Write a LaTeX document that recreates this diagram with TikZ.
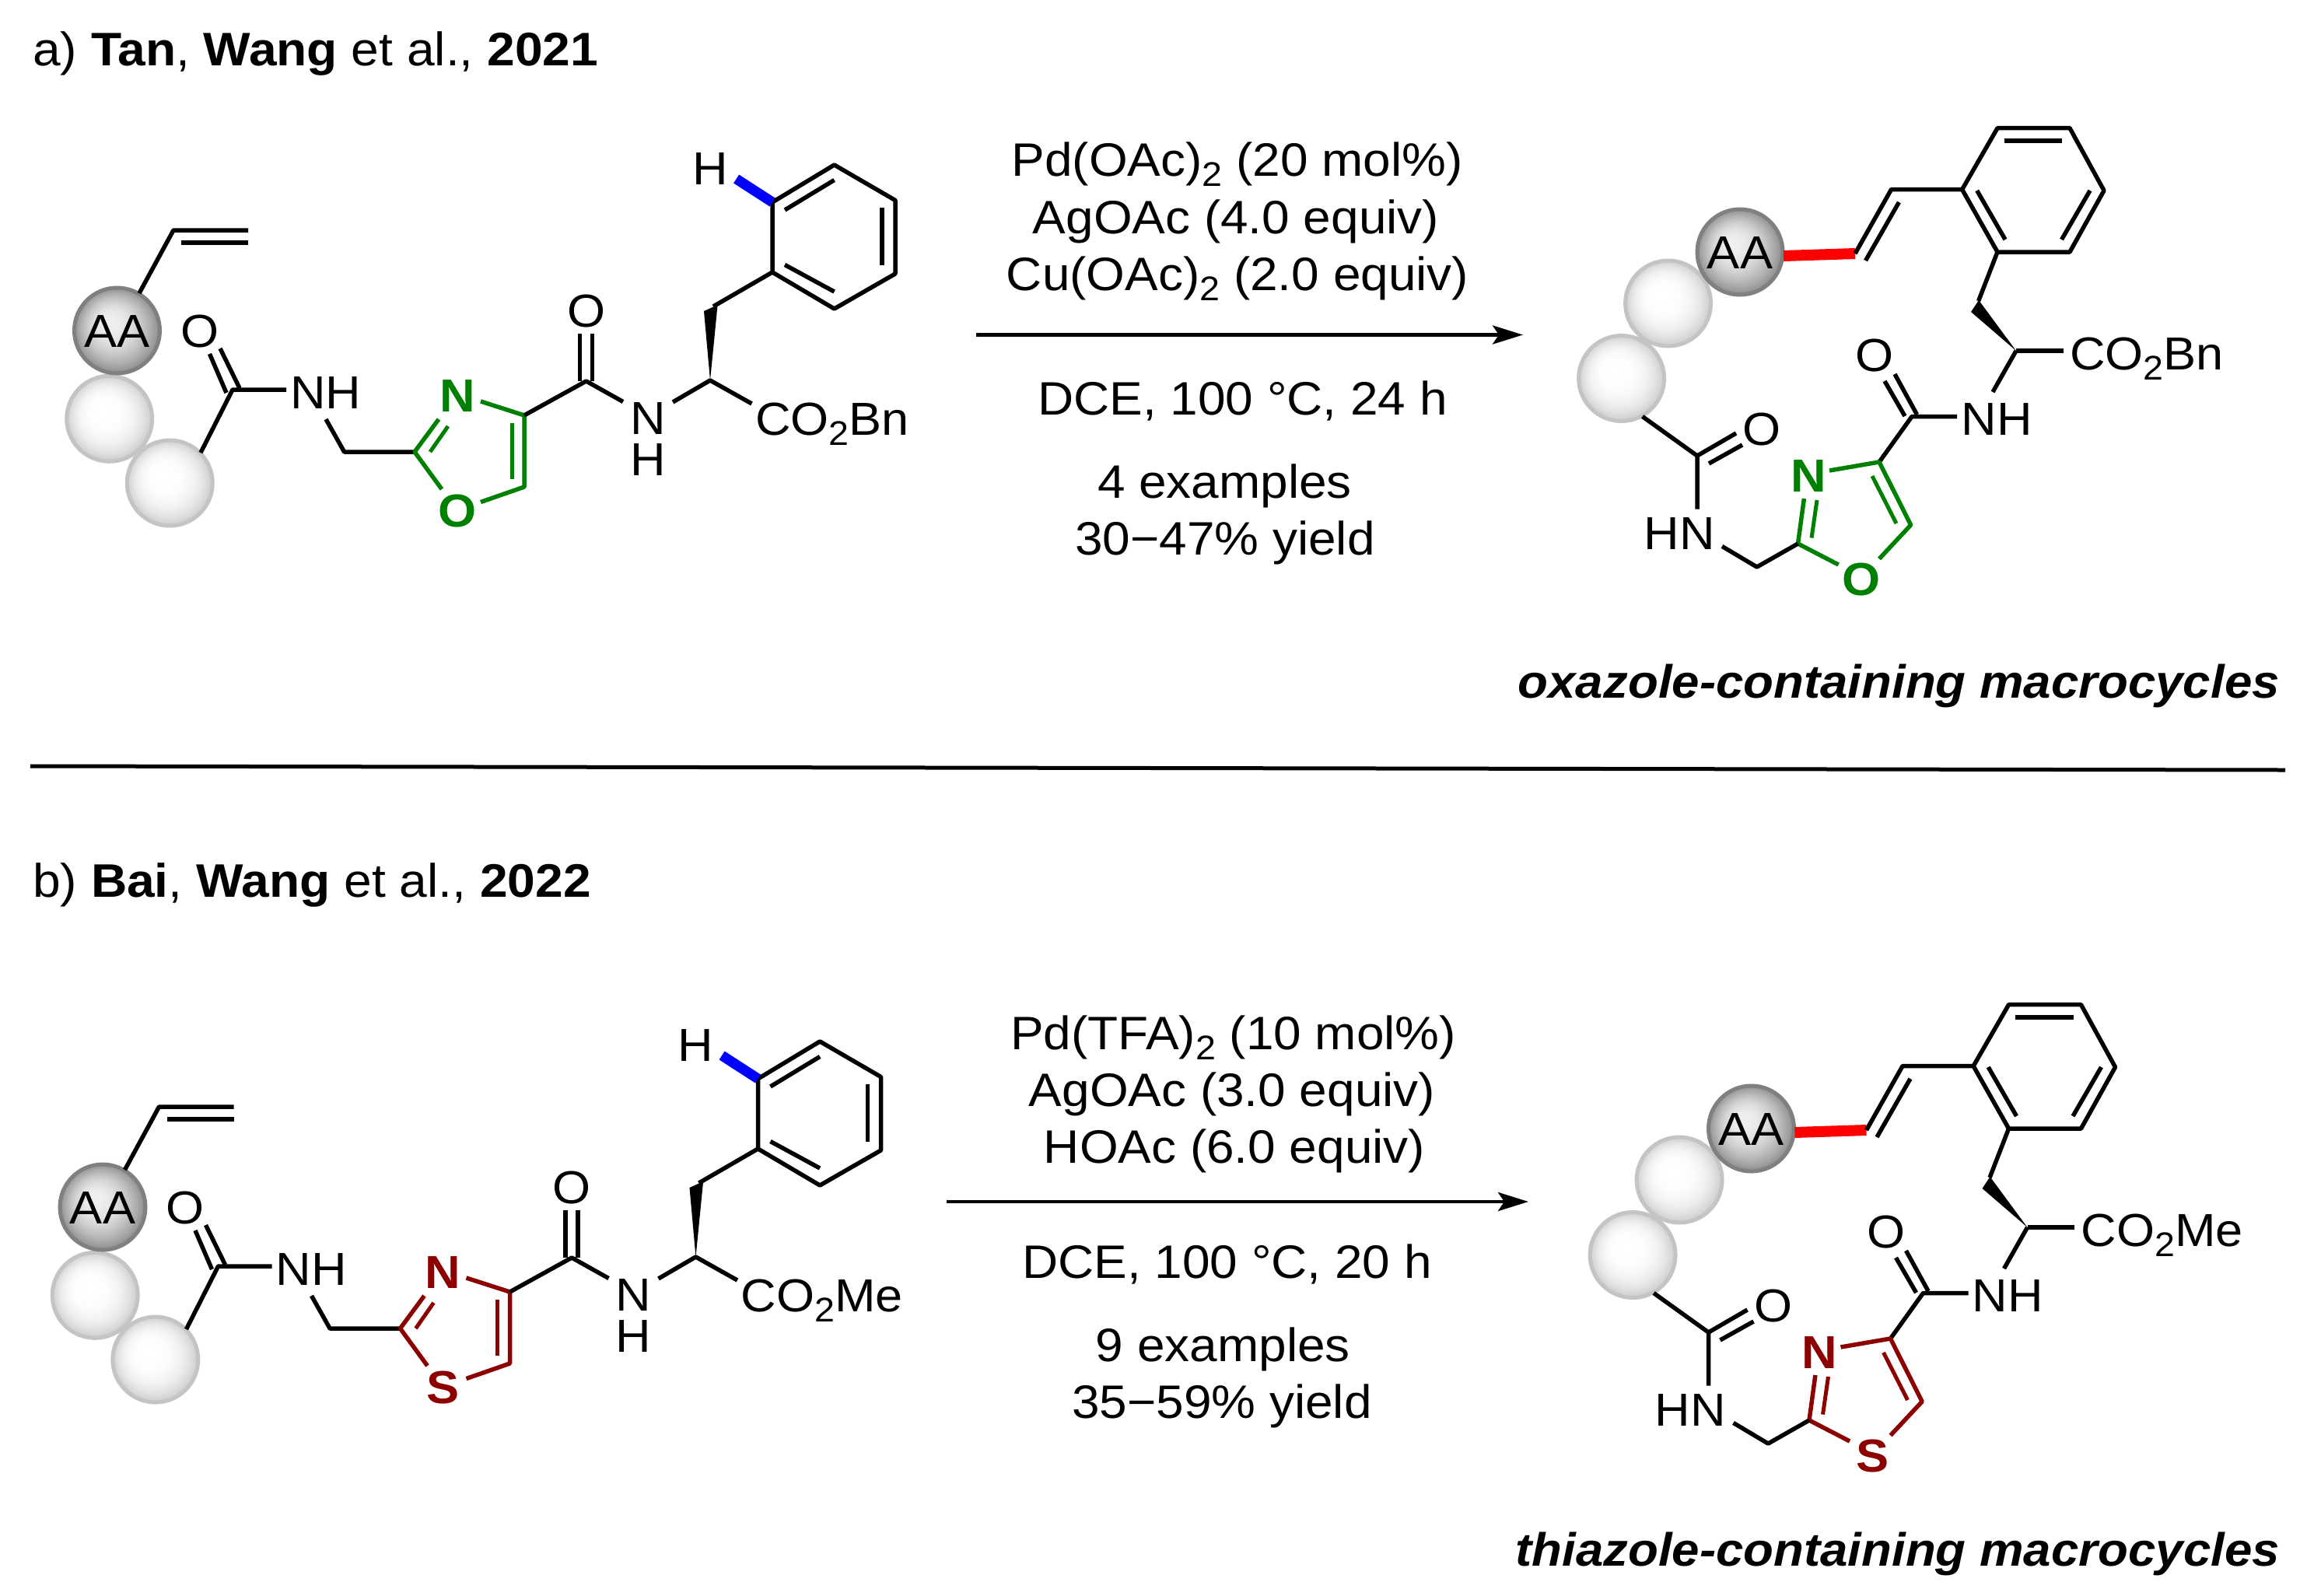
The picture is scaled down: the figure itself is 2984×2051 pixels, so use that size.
\documentclass[tikz,border=0pt]{standalone}
\usepackage{fontspec}
\setmainfont[FakeStretch=1.06]{Liberation Sans}
\usetikzlibrary{arrows.meta}
\definecolor{ozgreen}{RGB}{0,128,0}
\definecolor{tzred}{RGB}{140,0,0}
\definecolor{hblue}{RGB}{0,0,255}
\definecolor{bondred}{RGB}{255,0,0}
\newcommand\subtwo{\raisebox{-13pt}{\fontsize{44}{44}\selectfont 2}}
% nested off-centre discs give the sphere gradient: x, y, outer black%, inner black%, falloff
\newcommand\ballgrad[5]{%
  \foreach \ballI in {0,...,24}{%
    \pgfmathsetmacro\ballR{56-2.15*\ballI}%
    \pgfmathsetmacro\ballG{#4+(#3-#4)*((1-\ballI/25)^#5)}%
    \pgfmathsetmacro\ballX{#1-0.4*\ballI}%
    \pgfmathsetmacro\ballY{#2-0.45*\ballI}%
    \fill[black!\ballG] (\ballX,\ballY) circle[radius=\ballR];
  }}
\tikzset{
  bond/.style={draw=black,line width=5.5pt,line join=round},
  thinb/.style={draw=black,line width=5pt},
  wedgefill/.style={fill=black,draw=none},
  atomlab/.style={inner sep=0pt,anchor=base,font=\fontsize{59.5}{60}\selectfont},
  groupl/.style={inner sep=0pt,anchor=base west,font=\fontsize{59.5}{60}\selectfont},
  heteroa/.style={inner sep=0pt,anchor=base,font=\fontsize{59.5}{60}\selectfont\bfseries},
  reag/.style={inner sep=0pt,anchor=base,font=\fontsize{60.3}{60}\selectfont},
  head/.style={inner sep=0pt,anchor=base west,font=\fontsize{60.5}{62}\selectfont},
  mtitle/.style={inner sep=0pt,anchor=base east,font=\fontsize{60}{62}\selectfont\bfseries\itshape},
  aab/.style={circle,minimum size=110pt,inner sep=0pt,draw={black!50},line width=5pt},
  lb/.style={circle,minimum size=110pt,inner sep=0pt,draw={black!23},line width=5pt},
  hbond/.style={draw=hblue,line width=13pt},
  rbond/.style={draw=bondred,line width=14pt},
  rxn/.style={draw=black,line width=4.5pt,-{Stealth[length=39pt,width=24pt,inset=8pt]}},
  sep/.style={draw=black,line width=5pt}
}
% substrate: dx, dy, prefix, ring colour, hetero atom, ester
\newcommand\substrate[6]{%
\begin{scope}[shift={(#1,#2)}]
  \ballgrad{140.7}{538.3}{20}{0}{3}
  \node[lb] (#3b2) at (140.7,538.3) {};
  \ballgrad{218.3}{621}{20}{0}{3}
  \node[lb] (#3b3) at (218.3,621) {};
  \ballgrad{150.5}{425}{45}{6}{2}
  \node[aab] (#3aa) at (150.5,425) {};
  \node[atomlab] (#3aat) at (150.5,446.5) {AA};
  % vinyl
  \coordinate (#3v0) at (179,377); \coordinate (#3v1) at (223,296); \coordinate (#3v2) at (319,296);
  \coordinate (#3v3) at (233,312); \coordinate (#3v4) at (319,312);
  \draw[bond] (#3v0) -- (#3v1) -- (#3v2);
  \draw[bond] (#3v3) -- (#3v4);
  % amide 1
  \coordinate (#3a0) at (258,582); \coordinate (#3a1) at (299,501); \coordinate (#3a2) at (368,501);
  \draw[bond] (#3a0) -- (#3a1) -- (#3a2);
  \coordinate (#3o1) at (308,499); \coordinate (#3o2) at (283,448);
  \coordinate (#3o3) at (291,505); \coordinate (#3o4) at (269.5,455);
  \draw[bond] (#3o1) -- (#3o2); \draw[bond] (#3o3) -- (#3o4);
  \node[atomlab] (#3O1) at (257,446) {O};
  \node[atomlab] (#3NH) at (419,525) {NH};
  \coordinate (#3n0) at (419,539); \coordinate (#3ch) at (442.6,581); \coordinate (#3c2) at (533,581);
  \draw[bond] (#3n0) -- (#3ch) -- (#3c2);
  % azole
  \coordinate (#3c4) at (674,534); \coordinate (#3c5) at (674,626);
  \coordinate (#3nb) at (564,539); \coordinate (#3nc) at (618,516);
  \coordinate (#3xa) at (568,629); \coordinate (#3xb) at (618,645.5);
  \draw[bond,draw=#4] (#3nb) -- (#3c2) -- (#3xa);
  \draw[bond,draw=#4] (#3nc) -- (#3c4) -- (#3c5) -- (#3xb);
  \draw[thinb,draw=#4] (576,548) -- (553,581);
  \draw[thinb,draw=#4] (658,544) -- (658,616);
  \node[heteroa,text=#4] (#3N) at (588,529.5) {N};
  \node[heteroa,text=#4] (#3X) at (588,677.5) {#5};
  % amide 2
  \coordinate (#3c6) at (753.6,490); \coordinate (#3n2) at (801,516.5);
  \draw[bond] (#3c4) -- (#3c6) -- (#3n2);
  \draw[bond] (745.6,490) -- (745.6,429);
  \draw[bond] (761.5,490) -- (761.5,429);
  \node[atomlab] (#3O2) at (753.6,420.5) {O};
  \node[atomlab] (#3NN) at (833,558.5) {N};
  \node[atomlab] (#3NHb) at (833,611.5) {H};
  % alpha carbon
  \coordinate (#3n3) at (865,517); \coordinate (#3ca) at (913,489); \coordinate (#3e0) at (966.5,519);
  \draw[bond] (#3n3) -- (#3ca) -- (#3e0);
  \node[groupl] (#3est) at (971,559) {CO\subtwo #6};
  \fill[wedgefill] (#3ca) -- (905,400) -- (922.6,392) -- cycle;
  % phenyl
  \coordinate (#3p0) at (917,394); \coordinate (#3p1) at (993,350); \coordinate (#3p2) at (1072.6,397);
  \coordinate (#3p3) at (1151,352); \coordinate (#3p4) at (1151,257.5); \coordinate (#3p5) at (1072.6,212);
  \coordinate (#3p6) at (993,260);
  \draw[bond] (#3p0) -- (#3p1);
  \draw[bond] (#3p1) -- (#3p2) -- (#3p3) -- (#3p4) -- (#3p5) -- (#3p6) -- cycle;
  \draw[bond] (1009,340.5) -- (1072.6,375);
  \draw[bond] (1134,340.5) -- (1134,267);
  \draw[bond] (1009,270) -- (1072.6,231.5);
  \coordinate (#3h0) at (946.6,230);
  \draw[hbond] (#3p6) -- (#3h0);
  \node[atomlab] (#3H) at (913,237.5) {H};
\end{scope}}
% product
\newcommand\product[6]{%
\begin{scope}[shift={(#1,#2)}]
  \ballgrad{2144.6}{390}{20}{0}{3}
  \node[lb] (#3b2) at (2144.6,390) {};
  \ballgrad{2084.6}{486.5}{20}{0}{3}
  \node[lb] (#3b3) at (2084.6,486.5) {};
  \ballgrad{2237}{324}{45}{6}{2}
  \node[aab] (#3aa) at (2237,324) {};
  \node[atomlab] (#3aat) at (2237,345.5) {AA};
  \coordinate (#3r0) at (2293,329); \coordinate (#3r1) at (2385,326);
  \draw[rbond] (#3r0) -- (#3r1);
  \coordinate (#3v1) at (2431.5,243.6); \coordinate (#3p1) at (2522.6,243.6);
  \coordinate (#3p2) at (2568,164.7); \coordinate (#3p3) at (2661,164.7);
  \coordinate (#3p4) at (2705,245); \coordinate (#3p5) at (2661,324); \coordinate (#3p6) at (2568,324);
  \draw[bond] (#3r1) -- (#3v1) -- (#3p1);
  \draw[bond] (2398.5,335) -- (2441.4,260);
  \draw[bond] (#3p1) -- (#3p2) -- (#3p3) -- (#3p4) -- (#3p5) -- (#3p6) -- cycle;
  \draw[bond] (2576.6,181) -- (2651,181);
  \draw[bond] (2687,245) -- (2650.5,308);
  \draw[bond] (2541.7,245) -- (2578,308);
  \coordinate (#3w0) at (2543.6,387); \coordinate (#3ca) at (2592,451); \coordinate (#3e0) at (2652.5,451);
  \draw[bond] (#3p6) -- (#3w0);
  \fill[wedgefill] (#3ca) -- (2534,401) -- (2544,386) -- cycle;
  \draw[bond] (#3ca) -- (#3e0);
  \node[groupl] (#3est) at (2661,475.6) {CO\subtwo #6};
  \coordinate (#3n0) at (2562,504);
  \draw[bond] (#3ca) -- (#3n0);
  \node[atomlab] (#3NH) at (2567,559) {NH};
  \coordinate (#3n1) at (2516,535.5); \coordinate (#3c6) at (2458,535.5); \coordinate (#3c4) at (2416,594);
  \draw[bond] (#3n1) -- (#3c6) -- (#3c4);
  \draw[bond] (2464.5,533) -- (2436,481);
  \draw[bond] (2449,535) -- (2423,490);
  \node[atomlab] (#3O2) at (2410,477.5) {O};
  % azole
  \coordinate (#3c5) at (2456.6,675); \coordinate (#3c2) at (2311.5,699);
  \coordinate (#3nb) at (2319.4,641); \coordinate (#3nc) at (2352,605);
  \coordinate (#3xa) at (2363.6,726); \coordinate (#3xb) at (2416,718.5);
  \draw[bond,draw=#4] (#3nc) -- (#3c4) -- (#3c5) -- (#3xb);
  \draw[bond,draw=#4] (#3nb) -- (#3c2) -- (#3xa);
  \draw[thinb,draw=#4] (2407,612) -- (2438,673);
  \draw[thinb,draw=#4] (2329,691.6) -- (2336,643);
  \node[heteroa,text=#4] (#3N) at (2325,632) {N};
  \node[heteroa,text=#4] (#3X) at (2392.6,765) {#5};
  % linker
  \coordinate (#3ch) at (2258.7,729); \coordinate (#3n2) at (2214,702.4);
  \draw[bond] (#3c2) -- (#3ch) -- (#3n2);
  \node[atomlab] (#3HN) at (2159,706.5) {HN};
  \coordinate (#3n3) at (2182,654.7); \coordinate (#3c7) at (2182,586); \coordinate (#3b) at (2111.6,535.5);
  \draw[bond] (#3n3) -- (#3c7) -- (#3b);
  \draw[bond] (#3c7) -- (2232,557);
  \draw[bond] (2197,596) -- (2240,572);
  \node[atomlab] (#3O1) at (2265,572) {O};
\end{scope}}
\begin{document}
\begin{tikzpicture}[x=1pt,y=-1pt]
\useasboundingbox (0,0) rectangle (2984,2051);
% headers
\node[head] (heada) at (42,84) {a) \textbf{Tan}, \textbf{Wang} et al., \textbf{2021}};
\node[head] (headb) at (42,1153) {b) \textbf{Bai}, \textbf{Wang} et al., \textbf{2022}};
% separator
\coordinate (sepl) at (39,985); \coordinate (sepr) at (2938,990);
\draw[sep] (sepl) -- (sepr);
% panel a
\substrate{0}{0}{sa}{ozgreen}{O}{Bn}
\product{0}{0}{pa}{ozgreen}{O}{Bn}
\node[reag] (ra1) at (1590.7,226.5) {Pd(OAc)\subtwo{} (20 mol\%)};
\node[reag] (ra2) at (1589,300) {AgOAc (4.0 equiv)};
\node[reag] (ra3) at (1591,373) {Cu(OAc)\subtwo{} (2.0 equiv)};
\coordinate (aa1) at (1254.7,430.5); \coordinate (aa2) at (1958,430.5);
\draw[rxn] (aa1) -- (aa2);
\node[reag] (ra4) at (1597.5,533) {DCE, 100 °C, 24 h};
\node[reag] (ra5) at (1574.6,640) {4 examples};
\node[reag] (ra6) at (1575,713) {30−47\% yield};
\node[mtitle] (ta) at (2931,897.5) {oxazole-containing macrocycles};
% panel b
\substrate{-18.5}{1127}{sb}{tzred}{S}{Me}
\product{14.5}{1127}{pb}{tzred}{S}{Me}
\node[reag] (rb1) at (1585.7,1349) {Pd(TFA)\subtwo{} (10 mol\%)};
\node[reag] (rb2) at (1584,1422) {AgOAc (3.0 equiv)};
\node[reag] (rb3) at (1587,1495) {HOAc (6.0 equiv)};
\coordinate (ab1) at (1217,1545); \coordinate (ab2) at (1965,1545);
\draw[rxn] (ab1) -- (ab2);
\node[reag] (rb4) at (1577.5,1643) {DCE, 100 °C, 20 h};
\node[reag] (rb5) at (1572.4,1750) {9 examples};
\node[reag] (rb6) at (1571,1823) {35−59\% yield};
\node[mtitle] (tb) at (2931,2013) {thiazole-containing macrocycles};
\end{tikzpicture}
\end{document}
